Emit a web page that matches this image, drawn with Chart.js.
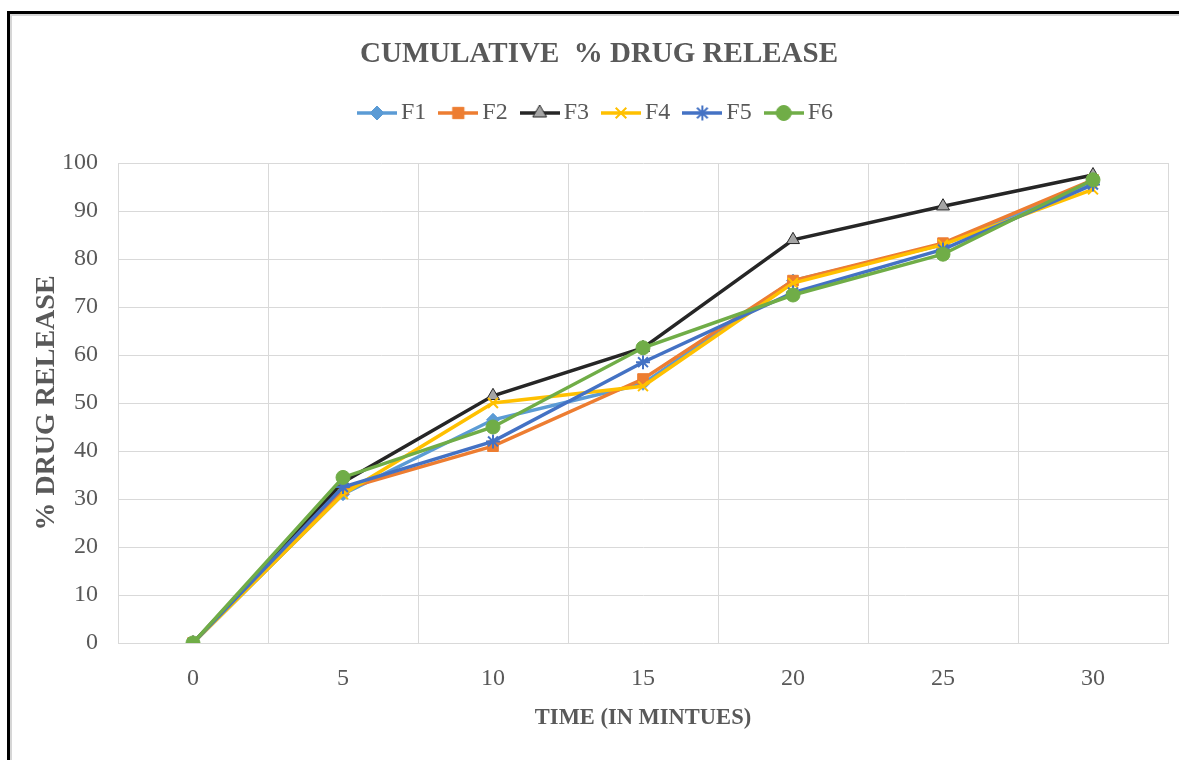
<!DOCTYPE html>
<html>
<head>
<meta charset="utf-8">
<title>Cumulative % Drug Release</title>
<script src="https://cdn.jsdelivr.net/npm/chart.js@4/dist/chart.umd.min.js"></script>
<style>
  html, body { margin: 0; padding: 0; background: #ffffff; }
  #wrap { position: relative; width: 1179px; height: 760px; overflow: hidden; }
  #frame {
    position: absolute; left: 7px; top: 11px; width: 1300px; height: 900px;
    border-top: 3px solid #000; border-left: 3px solid #000;
    box-shadow: inset 2px 2px 0 #d6d6d6;
  }
  #chart { position: absolute; left: 0; top: 0; }
</style>
</head>
<body>
<div id="wrap">
  <div id="frame"></div>
  <canvas id="chart" width="1179" height="760"></canvas>
</div>
<script>
// Sampling times (minutes)
const timePoints = ['0', '5', '10', '15', '20', '25', '30'];

// Cumulative % drug released per formulation
const f1 = [0, 31, 46.5, 54, 75.5, 83, 96];
const f2 = [0, 32, 41, 55, 75.5, 83.3, 96.5];
const f3 = [0, 33.5, 51.5, 61.5, 84, 91, 97.5];
const f4 = [0, 31, 50, 53.5, 75, 83, 94.5];
const f5 = [0, 32.5, 42, 58.5, 73, 82, 95.5];
const f6 = [0, 34.5, 45, 61.5, 72.5, 81, 96.5];

const seriesNames = ['F1', 'F2', 'F3', 'F4', 'F5', 'F6'];
const yTicks = [0, 10, 20, 30, 40, 50, 60, 70, 80, 90, 100];

const SERIF = '"Liberation Serif", "Times New Roman", serif';
const GREY_TEXT = '#595959';
const GRID = '#d9d9d9';

const styles = [
  { line: '#5B9BD5', fill: '#5B9BD5', border: '#5B9BD5', point: 'rectRot', radius: 6.5, bw: 1 },
  { line: '#ED7D31', fill: '#ED7D31', border: '#ED7D31', point: 'rect', radius: 7.5, bw: 1 },
  { line: '#262626', fill: '#A5A5A5', border: '#262626', point: 'triangle', radius: 7.5, bw: 1 },
  { line: '#FFC000', fill: '#FFC000', border: '#FFC000', point: 'crossRot', radius: 7, bw: 2 },
  { line: '#4472C4', fill: '#4472C4', border: '#4472C4', point: 'star', radius: 7, bw: 2 },
  { line: '#70AD47', fill: '#70AD47', border: '#70AD47', point: 'circle', radius: 7, bw: 1 }
];

// Small line-with-marker swatch for each legend entry
function legendSwatch(s) {
  const c = document.createElement('canvas');
  c.width = 40; c.height = 22;
  const ctx = c.getContext('2d');
  ctx.strokeStyle = s.line;
  ctx.lineWidth = 3.5;
  ctx.beginPath();
  ctx.moveTo(0, 11); ctx.lineTo(40, 11);
  ctx.stroke();
  ctx.fillStyle = s.fill;
  ctx.strokeStyle = s.border;
  ctx.lineWidth = s.bw;
  Chart.helpers.drawPoint(ctx, { pointStyle: s.point, radius: s.radius + 0.5, rotation: 0, borderWidth: s.bw }, 20, 11);
  return c;
}

const seriesData = [f1, f2, f3, f4, f5, f6];
const datasets = seriesData.map((values, i) => {
  const s = styles[i];
  return {
    label: seriesNames[i],
    data: values,
    borderColor: s.line,
    backgroundColor: s.fill,
    borderWidth: 3.5,
    tension: 0,
    pointStyle: s.point,
    pointRadius: s.radius,
    pointHoverRadius: s.radius,
    pointBackgroundColor: s.fill,
    pointBorderColor: s.border,
    pointBorderWidth: s.bw,
    // later series sit on top
    order: seriesData.length - 1 - i,
    swatch: legendSwatch(s)
  };
});

// Leaves a gap between the legend row and the plot area
const legendGap = {
  id: 'legendGap',
  afterInit(chart) {
    const lg = chart.legend;
    if (!lg) return;
    const fit = lg.fit.bind(lg);
    lg.fit = function () {
      fit();
      this.height += 28;
    };
  }
};

new Chart(document.getElementById('chart'), {
  type: 'line',
  data: { labels: timePoints, datasets },
  plugins: [legendGap],
  options: {
    responsive: false,
    animation: false,
    layout: { padding: { left: 30, right: 11, top: 0, bottom: 0 } },
    plugins: {
      tooltip: { enabled: false },
      title: {
        display: true,
        text: 'CUMULATIVE  % DRUG RELEASE',
        color: GREY_TEXT,
        font: { family: SERIF, size: 29, weight: 'bold' },
        padding: { top: 35.6, bottom: 8.6 }
      },
      legend: {
        display: true,
        position: 'top',
        labels: {
          usePointStyle: true,
          pointStyleWidth: 24,
          padding: 20,
          color: GREY_TEXT,
          font: { family: SERIF, size: 24 },
          sort: (a, b) => a.datasetIndex - b.datasetIndex,
          generateLabels: (chart) => chart.data.datasets.map((ds, i) => ({
            text: ds.label,
            datasetIndex: i,
            pointStyle: ds.swatch,
            fillStyle: ds.backgroundColor,
            strokeStyle: ds.borderColor,
            lineWidth: 0,
            hidden: false,
            fontColor: GREY_TEXT
          }))
        }
      }
    },
    scales: {
      x: {
        type: 'category',
        offset: true,
        grid: { color: GRID, lineWidth: 1, offset: true, drawTicks: false },
        border: { color: GRID, width: 1 },
        ticks: { color: GREY_TEXT, font: { family: SERIF, size: 24 }, padding: 21, maxRotation: 0 },
        title: {
          display: true,
          text: 'TIME (IN MINTUES)',
          color: GREY_TEXT,
          font: { family: SERIF, size: 22.5, weight: 'bold' },
          padding: { top: 0, bottom: 28.5 }
        },
        afterFit: (scale) => {
          scale.height = 117;
          scale.paddingLeft = 0;
          scale.paddingRight = 0;
        }
      },
      y: {
        min: 0,
        max: 100,
        afterBuildTicks: (scale) => { scale.ticks = yTicks.map(v => ({ value: v })); },
        grid: { color: GRID, lineWidth: 1, drawTicks: false },
        border: { color: GRID, width: 1 },
        ticks: { color: GREY_TEXT, font: { family: SERIF, size: 24 }, padding: 20 },
        title: {
          display: true,
          text: '% DRUG RELEASE',
          color: GREY_TEXT,
          font: { family: SERIF, size: 28, weight: 'bold' },
          padding: { top: 0, bottom: 0 }
        },
        afterFit: (scale) => {
          scale.width = 88;
          scale.paddingTop = 163;
          scale.paddingBottom = 0;
        }
      }
    }
  }
});
</script>
</body>
</html>
